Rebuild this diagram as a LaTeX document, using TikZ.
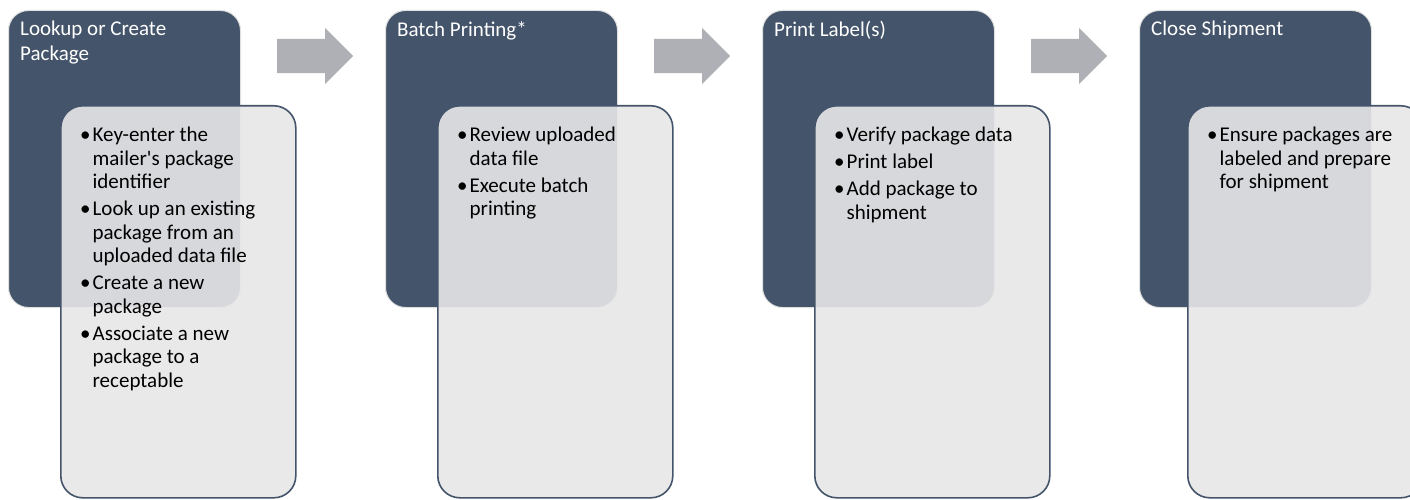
\documentclass[tikz,border=0pt]{standalone}
\usepackage{fontspec}
\setmainfont{Carlito}
\usetikzlibrary{shapes.arrows}
\definecolor{slate}{HTML}{44546A}
\definecolor{paper}{HTML}{E7E7E8}
\definecolor{arrowgray}{HTML}{AEB0B6}
\tikzset{
  phasebox/.style={draw=white!88!black, line width=1pt, fill=slate, rounded corners=20pt,
    minimum width=232pt, minimum height=297pt, anchor=north west, inner sep=0pt},
  taskbox/.style={draw=slate, line width=1.6pt, fill=paper, fill opacity=0.9, text opacity=1,
    rounded corners=22pt, minimum width=235pt, minimum height=392pt, anchor=north west, inner sep=0pt},
  phasetitle/.style={text=white, align=left, anchor=north west, inner sep=0pt,
    font=\fontsize{21}{24.5}\selectfont},
  tasktext/.style={text=black, anchor=north west, inner sep=0pt,
    font=\fontsize{21}{23.5}\selectfont},
  nextarrow/.style={single arrow, fill=arrowgray, draw=none, minimum height=76pt,
    inner xsep=0pt, inner ysep=17pt, single arrow head extend=11pt, anchor=west}
}
\newcommand{\tasks}[1]{\begin{tabular}{@{}l@{\hspace{2pt}}l@{}}#1\end{tabular}}
\begin{document}
\begin{tikzpicture}[x=1pt, y=-1pt]
  \useasboundingbox (0,0) rectangle (1410,500);
  % phase 1
  \node [phasebox] (lookup) at (8,10) {};
  \node [phasetitle] (lookuptitle) at (20,21) {Lookup or Create\\Package};
  \node [taskbox] (lookuptasks) at (60,105) {};
  \node [tasktext] (lookuplist) at (80,125) {\tasks{%
    \textbullet & Key-enter the\\ & mailer\textquotesingle s package\\ & identifier\\[3.5pt]
    \textbullet & Look up an existing\\ & package from an\\ & uploaded data file\\[3.5pt]
    \textbullet & Create a new\\ & package\\[3.5pt]
    \textbullet & Associate a new\\ & package to a\\ & receptable}};
  \node [nextarrow] (arrow1) at (277,56) {};
  % phase 2
  \node [phasebox] (batch) at (385,10) {};
  \node [phasetitle] (batchtitle) at (397,21) {Batch Printing*};
  \node [taskbox] (batchtasks) at (437,105) {};
  \node [tasktext] (batchlist) at (457,125) {\tasks{%
    \textbullet & Review uploaded\\ & data file\\[3.5pt]
    \textbullet & Execute batch\\ & printing}};
  \node [nextarrow] (arrow2) at (654,56) {};
  % phase 3
  \node [phasebox] (label) at (762,10) {};
  \node [phasetitle] (labeltitle) at (774,21) {Print Label(s)};
  \node [taskbox] (labeltasks) at (814,105) {};
  \node [tasktext] (labellist) at (834,125) {\tasks{%
    \textbullet & Verify package data\\[3.5pt]
    \textbullet & Print label\\[3.5pt]
    \textbullet & Add package to\\ & shipment}};
  \node [nextarrow] (arrow3) at (1031,56) {};
  % phase 4
  \node [phasebox] (close) at (1139,10) {};
  \node [phasetitle] (closetitle) at (1151,21) {Close Shipment};
  \node [taskbox] (closetasks) at (1187,105) {};
  \node [tasktext] (closelist) at (1207,125) {\tasks{%
    \textbullet & Ensure packages are\\ & labeled and prepare\\ & for shipment}};
\end{tikzpicture}
\end{document}
